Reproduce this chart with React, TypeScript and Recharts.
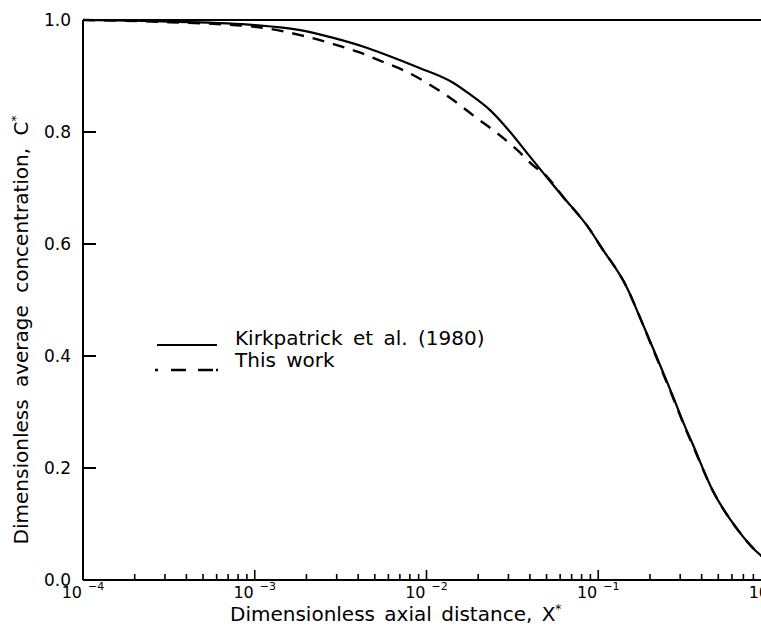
import { LineChart, Line, XAxis, YAxis, ReferenceLine, Legend, Label } from 'recharts';

// Kirkpatrick et al. (1980), solid
const kirkX = [0.0001, 0.00032, 0.001, 0.00184, 0.00287, 0.00453, 0.00702, 0.00918, 0.01429, 0.01795, 0.02344, 0.0307, 0.0385, 0.0478, 0.0625, 0.0897, 0.1026, 0.147, 0.1754, 0.209, 0.239, 0.273, 0.321, 0.352, 0.467, 0.644, 0.877, 1];
const kirkC = [1.0, 0.997, 0.991, 0.982, 0.968, 0.95, 0.928, 0.914, 0.888, 0.867, 0.839, 0.8, 0.7625, 0.727, 0.684, 0.625, 0.597, 0.522, 0.468, 0.413, 0.37, 0.327, 0.273, 0.245, 0.158, 0.091, 0.045, 0.033];

// This work, dashed
const workX = [0.0001, 0.00032, 0.001, 0.00184, 0.00287, 0.004, 0.0056, 0.00774, 0.01008, 0.01429, 0.0192, 0.0258, 0.0337, 0.0429, 0.0478, 0.0625, 0.0897, 0.1026, 0.147, 0.1754, 0.209, 0.239, 0.273, 0.321, 0.352, 0.467, 0.644, 0.877, 1];
const workC = [1.0, 0.996, 0.988, 0.973, 0.957, 0.943, 0.925, 0.907, 0.8875, 0.857, 0.827, 0.798, 0.768, 0.7375, 0.727, 0.684, 0.625, 0.597, 0.522, 0.468, 0.411, 0.368, 0.325, 0.271, 0.243, 0.158, 0.091, 0.045, 0.033];

const decades = [0.0001, 0.001, 0.01, 0.1, 1];
const exponents = ['−4', '−3', '−2', '−1', '0'];
const minorSteps = [2, 3, 4, 5, 6, 7, 8, 9];
const yTicks = [0, 0.2, 0.4, 0.6, 0.8, 1.0];

const kirkData = kirkX.map((x, i) => ({ x, c: kirkC[i] }));
const workData = workX.map((x, i) => ({ x, c: workC[i] }));
const xTicks = [
  ...decades,
  ...decades.slice(0, 4).flatMap((d) => minorSteps.map((k) => d * k)),
];

const FONT = '"DejaVu Sans", sans-serif';

function XTick({ x, y, payload }: any) {
  const v = payload.value;
  const idx = decades.findIndex((d) => Math.abs(Math.log10(v) - Math.log10(d)) < 1e-6);
  const major = idx >= 0;
  return (
    <g>
      <line x1={x} x2={x} y1={y} y2={y - (major ? 10 : 6)} stroke="#000" strokeWidth={1.6} />
      {major && (
        <g fontFamily={FONT} fill="#000">
          <text x={x - 1} y={y + 18} textAnchor="end" fontSize={16}>10</text>
          <text x={x + 5} y={y + 10} textAnchor="start" fontSize={11}>{exponents[idx]}</text>
        </g>
      )}
    </g>
  );
}

function YTick({ x, y, payload }: any) {
  const v = payload.value;
  const inner = v > 0 && v < 1;
  return (
    <g>
      {inner && <line x1={x} x2={x + 13} y1={y} y2={y} stroke="#000" strokeWidth={2} />}
      <text x={x - 12} y={y + 6} textAnchor="end" fontSize={17} fontFamily={FONT} fill="#000">
        {v.toFixed(1)}
      </text>
    </g>
  );
}

function LegendBox() {
  return (
    <svg width={420} height={56} style={{ display: 'block' }}>
      <line x1={7} x2={67} y1={20} y2={20} stroke="#000" strokeWidth={2} />
      <text x={85} y={20} fontSize={20} fontFamily={FONT} fill="#000" wordSpacing={4}>
        Kirkpatrick et al. (1980)
      </text>
      <line x1={5} x2={68} y1={45} y2={45} stroke="#000" strokeWidth={2.5} strokeDasharray="3 13 15 12 15" />
      <text x={85} y={42} fontSize={20} fontFamily={FONT} fill="#000" wordSpacing={4}>
        This work
      </text>
    </svg>
  );
}

export default function App() {
  return (
    <div style={{ position: 'absolute', left: 0, top: 0, width: 761, height: 633, background: '#fff' }}>
      <LineChart width={761} height={633} margin={{ top: 20, right: -9, bottom: 0, left: 0 }}>
        <XAxis
          dataKey="x"
          type="number"
          scale="log"
          domain={[0.0001, 1]}
          ticks={xTicks}
          interval={0}
          allowDataOverflow
          height={53}
          tickSize={0}
          tickMargin={0}
          tickLine={false}
          axisLine={{ stroke: '#000', strokeWidth: 2 }}
          tick={<XTick />}
        >
          <Label
            content={() => (
              <text x={230} y={621} fontSize={20} fontFamily={FONT} fill="#000" wordSpacing={3}>
                Dimensionless axial distance, X
                <tspan dy={-8} fontSize={12}>*</tspan>
              </text>
            )}
          />
        </XAxis>
        <YAxis
          type="number"
          domain={[0, 1]}
          ticks={yTicks}
          interval={0}
          width={83}
          tickSize={0}
          tickMargin={0}
          tickLine={false}
          axisLine={{ stroke: '#000', strokeWidth: 2 }}
          tick={<YTick />}
        >
          <Label
            content={() => (
              <text
                x={28}
                y={330}
                transform="rotate(-90, 28, 330)"
                textAnchor="middle"
                fontSize={20}
                fontFamily={FONT}
                fill="#000"
                wordSpacing={6}
              >
                Dimensionless average concentration, C
                <tspan dy={-8} fontSize={12}>*</tspan>
              </text>
            )}
          />
        </YAxis>
        <ReferenceLine y={1} stroke="#000" strokeWidth={2} />
        <Legend
          layout="horizontal"
          align="center"
          verticalAlign="middle"
          content={() => <LegendBox />}
          wrapperStyle={{ position: 'absolute', left: 150, top: 325, width: 420, height: 56 }}
        />
        <Line
          data={kirkData}
          dataKey="c"
          name="Kirkpatrick et al. (1980)"
          type="monotone"
          stroke="#000"
          strokeWidth={2.2}
          dot={false}
          isAnimationActive={false}
        />
        <Line
          data={workData}
          dataKey="c"
          name="This work"
          type="monotone"
          stroke="#000"
          strokeWidth={2.4}
          strokeDasharray="12 9"
          dot={false}
          isAnimationActive={false}
        />
      </LineChart>
    </div>
  );
}
